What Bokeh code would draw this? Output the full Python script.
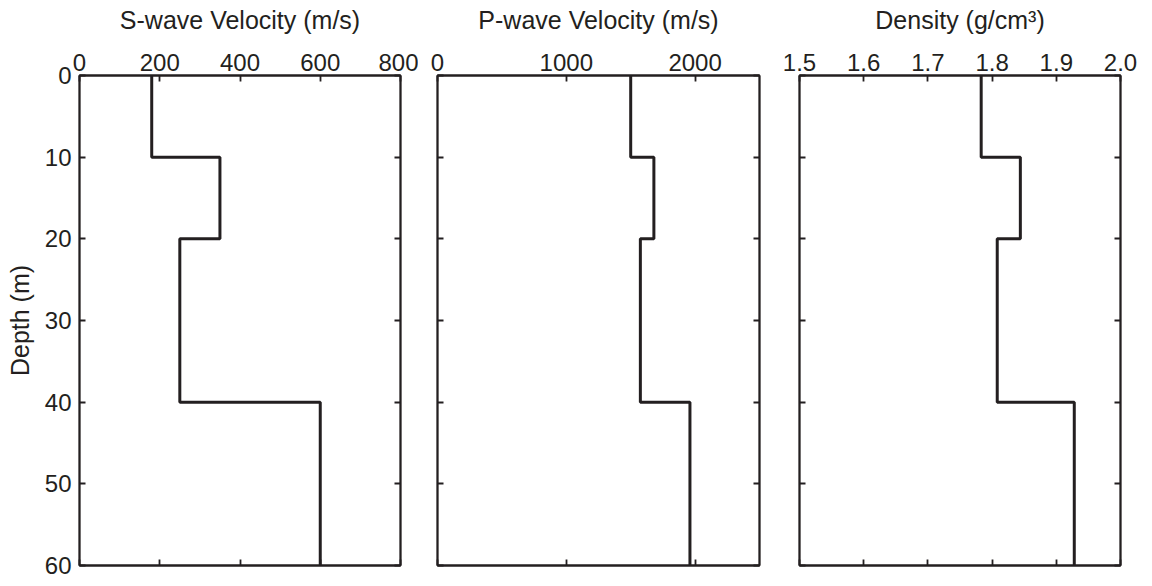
from bokeh.plotting import figure
from bokeh.layouts import row
from bokeh.models import Range1d, LinearAxis, FixedTicker, ColumnDataSource, NumeralTickFormatter
from bokeh.embed import file_html
from bokeh.resources import INLINE

# Layer boundaries (depth, m)
layer_top = [0, 10, 20, 40]
layer_bottom = [10, 20, 40, 60]
# Layer properties
vs = [180, 350, 250, 600]          # S-wave velocity (m/s)
vp = [1500, 1680, 1575, 1960]      # P-wave velocity (m/s)
rho = [1.783, 1.844, 1.808, 1.928] # Density (g/cm^3)

depth_ticks = [0, 10, 20, 30, 40, 50, 60]
vs_ticks = [0, 200, 400, 600, 800]
vp_ticks = [0, 1000, 2000]
rho_ticks = [1.5, 1.6, 1.7, 1.8, 1.9, 2.0]

FONT = "Liberation Sans"
TICK_FS = "24px"
LABEL_FS = "25px"
AX_COLOR = "#231f20"

TOP = 75
FH = 490
BOTTOM = 16


def profile(vals):
    xs, ys = [], []
    for v, t, b in zip(vals, layer_top, layer_bottom):
        xs += [v, v]
        ys += [t, b]
    return ColumnDataSource(dict(x=xs, y=ys))


def make_panel(vals, xr, xticks, label, show_y, bl, br, fw, fmt=None):
    p = figure(width=bl + fw + br, height=TOP + FH + BOTTOM, output_backend="svg",
               toolbar_location=None, x_axis_location=None, y_axis_location=None,
               x_range=Range1d(*xr), y_range=Range1d(60, 0),
               frame_width=fw, frame_height=FH,
               min_border_left=bl, min_border_right=br,
               min_border_top=TOP, min_border_bottom=BOTTOM)
    p.grid.visible = False
    p.outline_line_color = AX_COLOR
    p.outline_line_width = 1.8
    p.background_fill_color = "white"
    p.border_fill_color = "white"

    def style(ax, labels):
        ax.major_tick_in = 6
        ax.major_tick_out = 0
        ax.minor_tick_in = 0
        ax.minor_tick_out = 0
        ax.axis_line_color = AX_COLOR
        ax.axis_line_width = 1.8
        ax.major_tick_line_color = AX_COLOR
        ax.major_tick_line_width = 1.8
        ax.major_label_text_font = FONT
        ax.axis_label_text_font = FONT
        ax.axis_label_text_font_size = LABEL_FS
        ax.axis_label_text_font_style = "normal"
        ax.axis_label_text_color = AX_COLOR
        if labels:
            ax.major_label_text_font_size = TICK_FS
            ax.major_label_text_color = AX_COLOR
        else:
            ax.major_label_text_font_size = "0px"
            ax.major_label_text_color = None
            ax.major_label_standoff = 0

    top = LinearAxis(ticker=FixedTicker(ticks=xticks), axis_label=label)
    if fmt is not None:
        top.formatter = fmt
    style(top, True)
    top.major_label_standoff = 5
    top.axis_label_standoff = 17
    p.add_layout(top, "above")

    bot = LinearAxis(ticker=FixedTicker(ticks=xticks))
    style(bot, False)
    p.add_layout(bot, "below")

    left = LinearAxis(ticker=FixedTicker(ticks=depth_ticks),
                      axis_label="Depth (m)" if show_y else None)
    style(left, show_y)
    if show_y:
        left.major_label_standoff = 8
        left.axis_label_standoff = 8
    p.add_layout(left, "left")

    right = LinearAxis(ticker=FixedTicker(ticks=depth_ticks))
    style(right, False)
    p.add_layout(right, "right")

    p.line("x", "y", source=profile(vals), line_color=AX_COLOR, line_width=3)
    return p


p1 = make_panel(vs, (0, 800), vs_ticks, "S-wave Velocity (m/s)", True, 79, 18, 321)
p2 = make_panel(vp, (0, 2500), vp_ticks, "P-wave Velocity (m/s)", False, 19, 20, 322)
p3 = make_panel(rho, (1.5, 2.0), rho_ticks, "Density (g/cm³)", False, 20, 20, 321,
                fmt=NumeralTickFormatter(format="0.0"))

layout = row(p1, p2, p3, spacing=0)
open("out.html", "w").write(file_html(layout, INLINE))
